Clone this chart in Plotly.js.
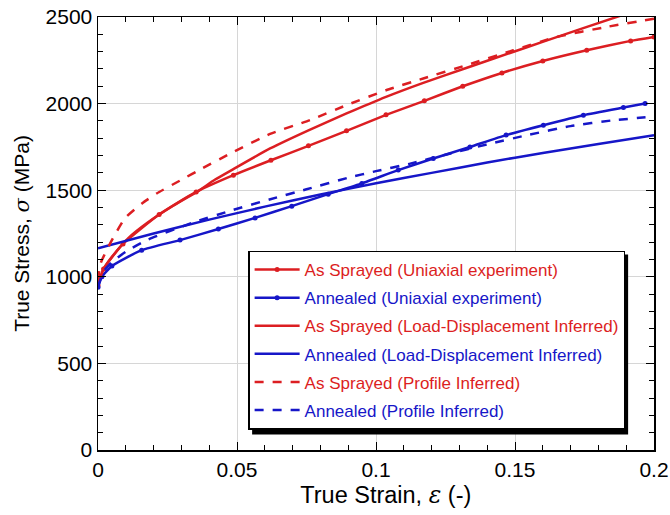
<!DOCTYPE html>
<html>
<head>
<meta charset="utf-8">
<script src="https://cdn.plot.ly/plotly-3.0.1.min.js"></script>
<style>html,body{margin:0;padding:0;background:#fff;}#chart{width:670px;height:515px;}</style>
</head>
<body>
<div id="chart"></div>
<script>
// As Sprayed (Uniaxial experiment)
const asUniStrain = [0, 0.002, 0.009, 0.022, 0.0353, 0.0487, 0.0622, 0.0757, 0.0894, 0.1036, 0.1174, 0.1312, 0.1453, 0.16, 0.1758, 0.1916, 0.2];
const asUniStress = [950, 1045, 1190, 1360, 1490, 1587, 1673, 1756, 1843, 1935, 2016, 2100, 2177, 2246, 2308, 2362, 2385];
// Annealed (Uniaxial experiment)
const anUniStrain = [0, 0.0014, 0.005, 0.0157, 0.0295, 0.0433, 0.0565, 0.0697, 0.0828, 0.0949, 0.108, 0.1206, 0.1338, 0.1468, 0.1602, 0.1746, 0.189, 0.1968];
const anUniStress = [940, 1000, 1062, 1154, 1212, 1276, 1340, 1408, 1477, 1539, 1616, 1683, 1750, 1818, 1875, 1933, 1977, 2000];
// As Sprayed (Load-Displacement Inferred)
const asLdStrain = [0, 0.002, 0.005, 0.011, 0.018, 0.027, 0.036, 0.042, 0.0487, 0.0619, 0.0757, 0.0894, 0.1036, 0.117, 0.1314, 0.1482, 0.1602, 0.1884, 0.2];
const asLdStress = [960, 1045, 1115, 1225, 1315, 1410, 1495, 1560, 1622, 1741, 1846, 1943, 2039, 2120, 2200, 2292, 2358, 2510, 2570];
// Annealed (Load-Displacement Inferred)
const anLdStrain = [0, 0.02, 0.04, 0.06, 0.08, 0.1, 0.12, 0.14, 0.16, 0.18, 0.2];
const anLdStress = [1165, 1250, 1330, 1405, 1475, 1540, 1600, 1660, 1715, 1767, 1818];
// As Sprayed (Profile Inferred)
const asPrStrain = [0, 0.001, 0.005, 0.0098, 0.0158, 0.0211, 0.03, 0.0374, 0.0487, 0.0619, 0.0763, 0.0894, 0.1036, 0.117, 0.1326, 0.1494, 0.165, 0.183, 0.2];
const asPrStress = [980, 1080, 1212, 1340, 1423, 1481, 1560, 1625, 1721, 1825, 1905, 1991, 2077, 2145, 2222, 2308, 2385, 2443, 2490];
// Annealed (Profile Inferred)
const anPrStrain = [0, 0.002, 0.005, 0.01, 0.018, 0.034, 0.048, 0.062, 0.075, 0.09, 0.1, 0.112, 0.125, 0.14, 0.155, 0.17, 0.185, 0.2];
const anPrStress = [945, 1030, 1085, 1145, 1215, 1312, 1383, 1448, 1505, 1572, 1610, 1652, 1705, 1765, 1820, 1870, 1903, 1925];

const xTickVals = [0, 0.05, 0.1, 0.15, 0.2];
const xTickText = ['0', '0.05', '0.1', '0.15', '0.2'];
const yTickVals = [0, 500, 1000, 1500, 2000, 2500];
const yTickText = ['0', '500', '1000', '1500', '2000', '2500'];

const RED = 'rgb(220,30,34)';
const BLUE = 'rgb(22,22,200)';

function nm(t, c) { return '<span style="color:' + c + '">' + t + '</span>'; }

const traces = [
  {x: asUniStrain, y: asUniStress, name: nm('As Sprayed (Uniaxial experiment)', RED), mode: 'lines+markers',
   line: {color: RED, width: 2.5, shape: 'spline', smoothing: 0.5}, marker: {color: RED, size: 5}, legendgroup: 'a'},
  {x: anUniStrain, y: anUniStress, name: nm('Annealed (Uniaxial experiment)', BLUE), mode: 'lines+markers',
   line: {color: BLUE, width: 2.5, shape: 'spline', smoothing: 0.5}, marker: {color: BLUE, size: 5}, legendgroup: 'b'},
  {x: asLdStrain, y: asLdStress, name: nm('As Sprayed (Load-Displacement Inferred)', RED), mode: 'lines',
   line: {color: RED, width: 2.5, shape: 'spline', smoothing: 0.5}, legendgroup: 'c'},
  {x: anLdStrain, y: anLdStress, name: nm('Annealed (Load-Displacement Inferred)', BLUE), mode: 'lines',
   line: {color: BLUE, width: 2.5, shape: 'spline', smoothing: 0.5}, legendgroup: 'd'},
  {x: asPrStrain, y: asPrStress, name: nm('As Sprayed (Profile Inferred)', RED), mode: 'lines',
   line: {color: RED, width: 2.5, dash: 'dash', shape: 'spline', smoothing: 0.5}, legendgroup: 'e'},
  {x: anPrStrain, y: anPrStress, name: nm('Annealed (Profile Inferred)', BLUE), mode: 'lines',
   line: {color: BLUE, width: 2.5, dash: 'dash', shape: 'spline', smoothing: 0.5}, legendgroup: 'f'}
];

const axisCommon = {
  showline: true, linecolor: '#000', linewidth: 1.5, mirror: 'allticks',
  ticks: 'inside', ticklen: 8, tickwidth: 1, tickcolor: '#000',
  showgrid: true, gridcolor: '#d6d6d6', gridwidth: 1, zeroline: false,
  tickfont: {family: 'Liberation Sans, Arial, sans-serif', size: 21, color: '#000'}
};

const layout = {
  width: 670, height: 515,
  margin: {l: 98, r: 16, t: 17, b: 65},
  paper_bgcolor: '#fff', plot_bgcolor: '#fff',
  font: {family: 'Liberation Sans, Arial, sans-serif', color: '#000'},
  xaxis: Object.assign({}, axisCommon, {
    range: [0, 0.2], tickmode: 'array', tickvals: xTickVals, ticktext: xTickText,
    minor: {dtick: 0.01, ticks: 'inside', ticklen: 5, tickcolor: '#000', showgrid: false},
    title: {text: '&nbsp;&nbsp;&nbsp;True Strain, <span style="font-family:\'DejaVu Serif\';font-style:italic">ε</span> (-)', font: {size: 23.5}, standoff: 7}
  }),
  yaxis: Object.assign({}, axisCommon, {
    range: [0, 2500], tickmode: 'array', tickvals: yTickVals, ticktext: yTickText,
    minor: {dtick: 100, ticks: 'inside', ticklen: 5, tickcolor: '#000', showgrid: false},
    title: {text: 'True Stress, <span style="font-family:\'DejaVu Serif\';font-style:italic">σ</span> (MPa)', font: {size: 21}, standoff: 10}
  }),
  legend: {
    x: 0.27, y: 0.4607, xanchor: 'left', yanchor: 'top',
    bgcolor: '#fff', bordercolor: '#000', borderwidth: 1.5,
    font: {size: 17, family: 'Liberation Sans, Arial, sans-serif'},
    tracegroupgap: 3, traceorder: 'grouped', itemwidth: 45
  },
  shapes: [{
    type: 'rect', layer: 'above', xref: 'paper', yref: 'paper',
    xsizemode: 'pixel', ysizemode: 'pixel', xanchor: 0.27, yanchor: 0.4607,
    x0: 4, x1: 380, y0: -184, y1: -4,
    fillcolor: '#000', line: {width: 0}
  }],
  showlegend: true
};

Plotly.newPlot('chart', traces, layout, {displayModeBar: false, staticPlot: true});
</script>
</body>
</html>
